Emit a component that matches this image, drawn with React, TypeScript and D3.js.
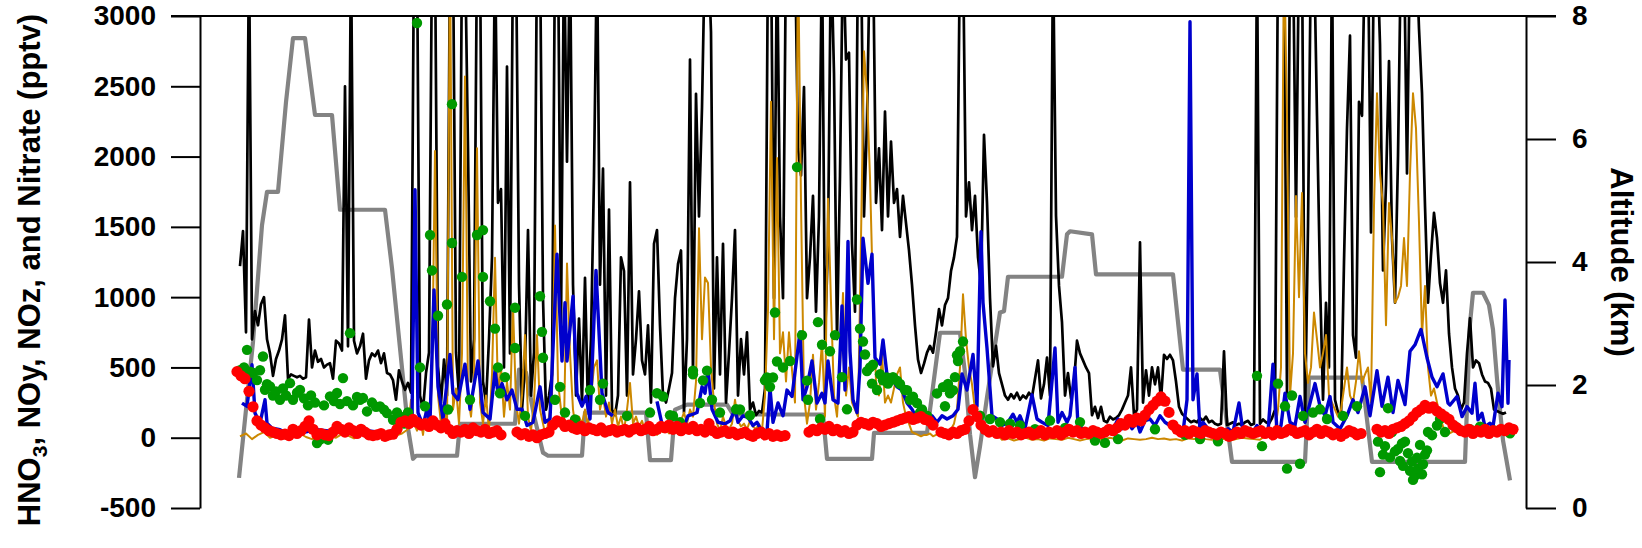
import React, { useEffect, useRef } from 'react';
import * as d3 from 'd3';

// Elapsed sample index runs from 0 to 1326 across the plot.
// A run is [first index, spacing, values]; values are pptv (null = no data).
type Run = [number, number, (number | null)[]];
type Pt = [number, number | null];

// NOy (black)
const noyRuns: Run[] = [
  [40, 3, [1220, 1470, 750, 3500, 700, 900, 800, 950, 1000, 700, 600, 440, 560, 620, 700, 870, 420, 450, 440, 430,
    440, 420, 430, 840, 500, 620, 540, 560, 500, 520, 530, 420, 690, 670, 620, 2500, 650, 3500, 690, 600,
    650, 740, 420, 550, 600, 580, 620, 530, 600, 460, 450, 410, 270, 480, 400, 340, 390, 320, 3500]],
  [217, 3, [3500, 300, 200, 460, 605, 3500, 3500, 508, 250, 556, 300, 3500, 3500, 605, 300, 3500, 3500, 2058, 400, 702,
    3500, 3500, 400, 250, 702, 1283, 3500, 1671, 1768, 500, 2640, 600, 3500, 3500, 1089, 200, 508, 1477, 300, 605,
    3500, 3500, 993, 200, 300, 450, 3500, 3500, 799]],
  [364, 3, [3500, 1963, 3500, 1089, 300, 848, 250, 1138, 200, 702, 1866, 3500, 1089, 1914, 300, 1623, 200, 160, 300, 1283,
    1186, 300, 1817, 450, 702, 1041, 550, 450, 799, 250, 1380, 1477, 799, 300, 250, 350, 460, 993, 1235, 1332,
    180, 702, 2690, 450, 2446, 1574, 2349, 3500, 3500]],
  [511, 3, [2884, 350, 1283, 450, 1380, 250, 605, 993, 1477, 300, 702, 450, 750, 200, 250, 160, 190, 180, 350, 3500,
    3500, 993, 3500, 1574, 993, 3500, 3500, 3500, 3500, 2058, 1866, 2494, 993, 1283, 1720, 896, 1574, 3500, 702, 1380,
    3500, 2592, 702, 1866, 3500, 2690, 2739, 1380]],
  [655, 3, [896, 3500, 3500, 1574, 2252, 3500, 3500, 1671, 2058, 1477, 2320, 1574, 2107, 1671, 1768, 1429, 1720, 1526, 1332, 1089,
    799, 556, 460, 527, 605, 653, 605, 750, 915, 799, 944, 993, 1186, 1283, 1429, 3500, 3500, 1574, 1817, 1477,
    1720, 1283, 1089, 2155, 1671, 993, 508, 653, 460]],
  [805, 3, [300, 270, 310, 280, 320, 270, 300, 280, 320, 290, 420, 550, 280, 380, 570, 300, 3500, 1580, 1080, 820,
    300, 460, 280, 390, 690, 600, 550, 500, 460, 160, 220, 140, 220, 120, 110, 150, 130, 140, 160, 200,
    250, 300, 500, 160, 200, 1390, 250]],
  [946, 3, [480, 300, 500, 380, 500, 270, 590, 560, 590, 550, 400, 220, 170, 150, 130, 110, 120, 110, 140, 120,
    150, 110, 120, 100, 90, 100, 615, 90, 100, 110, 90, 100, 90, 110, 120, 90, 100, 3500, 100, 130,
    110, 100, 140, 200, 3500, 3500, 3500, 300, 3500, 3500, 1570, 3500]],
  [1102, 3, [3500, 110, 1500, 3500, 3500, 2290, 1120, 270, 960, 500, 3500, 270, 180, 150, 1250, 2200, 2860, 730, 570, 2390,
    2290, 3500, 3500, 1460, 3500, 3500, 2800, 1190, 1800, 2680, 1420, 960, 2000, 3500, 3500, 1880, 3500, 3500, 3500, 2910,
    2450, 1650, 960, 1300, 1600, 1420, 1100, 960, 1190, 740, 500, 350, 300, 200, 250, 600, 850, 500, 550, 530,
    450, 400, 390, 350, 200, 190, 180, 170, 180]],
];

// HNO3 (orange)
const hno3Runs: Run[] = [
  [40, 6, [10, 30, -10, 20, 40, 0, 15, -5, 25, 10, 30, 5, -10, 20, 35, 10, 0, 25, 15, -5,
    20, 30, 10, 0, 20, 40, 15, 30, 60]],
  [211, 3, [270, 100, 50, 150, 20, 200, 80, 400, 2040, 300, 100, 250, 50, 3500, 200, 350, 100, 600, 2570, 300,
    150, 400, 2060, 250, 100, 300, 50, 450, 1280, 300, 500, 150, 400, 200, 940, 250, 100, 300, 730, 150,
    50, 250, 730, 200, 100, 0, 150, 300, 1510, 400, 200, 100]],
  [367, 3, [1240, 600, 200, 50, 150, 100, 200, 80, 300, 500, 550, 200, 300, 150, 250, 100, 200, 80, 150, 50,
    200, 390, 100, 150, 80, 120, 50, 100, 30, 60, 20, 50, 40, 60, 30, 50, 40, 80, 120, 180,
    100, 200, 150, 400, 1490, 700, 1140, 1100]],
  [511, 3, [500, 250, 100, 50, 150, 80, 60, 100, 270, 120, 80, 100, 60, 120, 80, 60, 100, 50, 300, 910,
    2390, 700, 1990, 600, 750, 400, 750, 480, 250, 3500, 1670, 300, 100, 250, 590, 200, 390, 680, 150, 1700,
    960, 300, 150, 500, 1030, 300, 500, 250]],
  [655, 3, [200, 150, 1420, 2750, 2450, 1850, 1000, 400, 300, 590, 250, 300, 250, 350, 450, 500, 250, 150, 100, 40,
    30, 20, 10, 20, 20, 30, 10, 20, 30, 20, 40, 30, 60, 100, 200, 500, 1020, 700, 500, 380,
    200, 150, 100, 80, 60, 40, 30, 20, 10]],
  [802, 6, [-15, -5, -20, -10, 0, -15, -10, -20, -5, -10, -15, 0, -10, -20, -10, -5, -15, -10, 0, -10,
    -20, -5, -10, -15, -10, 0, -10, -5, -15, -10, -20, -5, -10, 0, -10, -15, -5, -10, -20, -10,
    0, -5, -10, -15, 20]],
  [1072, 3, [0, 50, 200, 500, 3500, 2300, 300, 600, 1720, 1000, 1740, 600, 390, 500, 890, 700, 500, 600, 730, 300,
    250, 200, 150, 200, 350, 500, 300, 250, 400, 615, 390, 450, 500, 250, 1650, 2450, 1880, 1650, 800, 1670,
    1420, 960, 1000, 1080, 1420, 1080, 1880, 2450, 2200, 1530, 730, 1080, 500, 300, 350, 250, 150, 80, 40]],
  [1249, 6, [30, 50, 20, 40, 10, 30, 50, 20, 40, 30, 50]],
];

// Nitrate (red dots)
const nitrateRuns: Run[] = [
  [37, 4, [470, 440, 420, 330, 220, 120, 90, 70, 50, 40, 30, 20, 25, 15, 60, 30, 50, 80, 120, 60,
    20, 30, 20, 15, 40, 80, 60, 40, 70, 50, 30, 60, 40, 20, 15, 20, 30, 10, 20, 25,
    60, 110, 120, 100, 130, 110, 90, 100, 80, 120, 90, 70, 100, 60, 30, 50, 40, 60, 30, 70,
    50, 40, 60, 30, 40, 50, 20]],
  [317, 4, [40, 20, 30, 10, 20, 0, 20, 30, 40, 90, 120, 110, 80, 90, 70, 60, 80, 50, 70, 60,
    50, 70, 40, 50, 60, 40, 50, 60, 40, 60, 70, 50, 60, 80, 50, 60, 80, 70, 90, 60,
    80, 50, 70, 60, 80, 50, 60, 40, 100, 50, 30, 40, 50, 30, 40, 20, 30, 40, 20, 10,
    30, 40, 20, 30, 10, 20, 10, 15]],
  [609, 4, [40, 60, 50, 70, 60, 80, 50, 60, 40, 50, 30, 40, 90, 110, 100, 90, 110, 100, 80, 90,
    100, 110, 120, 130, 140, 150, 130, 140, 150, 130, 120, 90]],
  [741, 4, [40, 30, 20, 40, 30, 50, 60, 120, 200, 150, 90, 60, 40, 50, 30, 40, 20, 50, 30, 40,
    20, 30, 40, 20, 30, 50, 20, 40, 30, 50, 20, 40, 60, 40, 50, 30, 40, 30, 50, 40,
    30, 40, 60, 50, 70, 100, 90, 130, 110, 140, 120, 160, 200, 230, 260, 290, 260, 180, 90, 60,
    40, 50, 30, 50, 40, 30, 50, 40, 30, 20, 40, 30, 10, 20, 40, 30, 50, 40, 30, 40,
    50, 30, 40, 20, 50, 30, 40, 60, 50, 30, 40, 50, 20, 40, 60, 30, 50, 40, 20, 30,
    10, 30, 50, 40, 20, 30]],
  [1177, 4, [60, 40, 50, 30, 60, 70, 80, 100, 120, 150, 180, 200, 230, 210, 220, 190, 170, 150, 130, 90,
    70, 50, 40, 60, 30, 50, 40, 60, 30, 50, 40, 60, 50, 70, 60]],
];

// NOz (blue), [index, pptv]; two pieces with a data gap between them
const nozPiece1: Pt[] = [
  [42, 246], [47, 223], [52, 519], [55, 175], [60, 104], [65, 270], [67, 104], [72, 68], [80, 57], [87, 33],
  [100, 33], [117, 57], [133, 45], [147, 68], [160, 57], [173, 45], [187, 33], [193, 57], [198, 104], [203, 116],
  [208, 104], [212, 128], [215, 1764], [218, 179], [223, 87], [227, 202], [230, 110], [234, 1052], [238, 362], [243, 133],
  [250, 592], [253, 316], [258, 270], [265, 523], [270, 202], [278, 546], [283, 179], [290, 133], [295, 477], [298, 316],
  [302, 385], [307, 270], [312, 339], [317, 202], [322, 202], [327, 87], [333, 110], [340, 362], [345, 110], [350, 133],
  [357, 1305], [362, 546], [365, 960], [367, 546], [373, 1006], [377, 316], [382, 224], [386, 293], [390, 133], [396, 1190],
  [402, 316], [408, 179], [413, 156],
];
const nozPiece2: Pt[] = [
  [457, 259], [463, 64], [470, 64], [477, 87], [483, 64], [488, 156], [493, 167], [497, 179], [502, 362], [505, 316],
  [508, 477], [512, 202], [518, 110], [525, 98], [530, 121], [535, 202], [538, 110], [543, 156], [548, 144], [553, 87],
  [557, 110], [562, 41], [567, 41], [570, 351], [573, 110], [578, 247], [583, 156], [587, 339], [592, 293], [600, 753],
  [603, 270], [607, 362], [612, 546], [617, 247], [622, 316], [625, 247], [628, 546], [633, 270], [638, 247], [642, 937],
  [645, 339], [648, 1396], [650, 615], [653, 270], [657, 179], [660, 500], [663, 1419], [668, 1098], [672, 1305], [675, 569],
  [680, 523], [683, 696], [688, 385], [693, 408], [697, 362], [702, 339], [707, 247], [712, 202], [717, 133], [722, 202],
  [727, 110], [732, 156], [737, 110], [742, 156], [747, 133], [753, 156], [758, 202], [762, 454], [767, 339], [773, 592],
  [777, 224], [781, 1465], [783, 960], [787, 638], [792, 156], [797, 133], [802, 87], [808, 110], [813, 167], [817, 110],
  [820, 156], [825, 64], [832, 305], [837, 133], [842, 110], [848, 87], [855, 638], [858, 110], [862, 179], [867, 110],
  [870, 156], [875, 500], [878, 87], [883, 64], [892, 50], [902, 40], [912, 45], [918, 133], [922, 64], [927, 133],
  [932, 64], [937, 110], [940, 41], [945, 121], [950, 133], [955, 87], [960, 156], [965, 110], [970, 87], [977, 64],
  [983, 41], [987, 270], [990, 2959], [993, 270], [997, 454], [1000, 41], [1003, 110], [1008, 64], [1017, 41], [1023, 29],
  [1028, 64], [1033, 41], [1039, 247], [1043, 41], [1048, 64], [1053, 41], [1057, 87], [1062, 41], [1068, 41], [1073, 523],
  [1077, 41], [1081, 87], [1085, 316], [1090, 110], [1095, 87], [1100, 293], [1105, 110], [1110, 247], [1115, 385], [1120, 224],
  [1125, 156], [1130, 293], [1133, 110], [1140, 64], [1147, 156], [1153, 270], [1158, 179], [1165, 362], [1170, 156], [1177, 477],
  [1182, 224], [1188, 431], [1193, 179], [1198, 408], [1205, 236], [1210, 615], [1215, 661], [1221, 770], [1227, 569], [1232, 431],
  [1237, 362], [1243, 454], [1248, 247], [1250, 233], [1257, 293], [1262, 150], [1267, 221], [1272, 174], [1275, 387], [1278, 127],
  [1282, 174], [1285, 79], [1290, 103], [1293, 79], [1298, 316], [1302, 221], [1305, 980], [1308, 245], [1309, 553],
];

// other nitrogen species (green dots), [index, pptv]
const greenDots: [number, number][] = [
  [40, 480], [44, 500], [47, 625], [50, 470], [53, 460], [57, 410], [60, 480], [63, 578], [65, 341], [67, 380],
  [70, 365], [73, 300], [76, 330], [80, 270], [83, 350], [86, 300], [90, 388], [93, 270], [97, 320], [100, 340],
  [104, 280], [108, 230], [111, 300], [115, 250], [117, -38], [120, -14], [124, 230], [128, -14], [130, 294], [134, 260],
  [137, 318], [140, 240], [143, 424], [147, 260], [150, 744], [153, 230], [157, 290], [160, 270], [163, 282], [167, 187],
  [172, 250], [176, 220], [180, 223], [184, 200], [187, 175], [193, 128], [197, 180], [200, 152], [204, 100], [208, 180],
  [217, 2950], [220, 500], [225, 224], [230, 1442], [232, 1190], [238, 868], [247, 948], [248, 201], [252, 2373], [252, 1385],
  [262, 1144], [270, 270], [277, 1442], [283, 1477], [283, 1144], [290, 971], [295, 776], [298, 500], [300, 316], [305, 431],
  [315, 925], [315, 638], [325, 155], [340, 1006], [342, 753], [343, 569], [355, 270], [360, 362],
  [365, 179], [375, 130], [390, 339], [400, 270], [403, 385], [427, 155], [450, 179], [457, 316], [463, 293], [470, 160],
  [473, 155], [480, 110], [493, 477], [493, 451], [500, 247], [503, 408], [507, 477],
  [512, 270], [520, 179], [536, 202], [540, 201], [550, 160], [565, 408], [567, 428], [570, 362], [573, 428], [575, 891],
  [577, 542], [583, 500], [590, 546], [597, 1925], [602, 730], [607, 406], [608, 270], [618, 822], [620, 133], [622, 661],
  [630, 615], [635, 730], [642, 431], [647, 202],
  [657, 983], [660, 776], [663, 684], [665, 592], [667, 474], [670, 500], [673, 519], [672, 385], [677, 339], [680, 451],
  [683, 408], [687, 428], [688, 385], [693, 431], [697, 406], [700, 383], [705, 339], [707, 338], [710, 270], [713, 292],
  [717, 247], [720, 179], [722, 201], [727, 156], [737, 315], [743, 360], [745, 224], [748, 383], [750, 316], [753, 338],
  [755, 431], [757, 587], [758, 546], [760, 615], [763, 684], [780, 156], [790, 133], [800, 111], [810, 100], [820, 88],
  [835, 60], [850, 122], [865, 70], [880, 111], [895, -20], [905, -37], [918, -10], [942, 133], [955, 60], [985, 20],
  [1000, -10], [1018, -25], [1057, 440], [1062, -60], [1078, 385], [1085, 224], [1087, -220], [1092, 300], [1100, -185], [1103, 155],
  [1113, 179], [1120, 202], [1127, 133], [1143, 155], [1157, 224], [1178, -28], [1180, -245], [1183, -120], [1185, -60], [1188, 210],
  [1190, -140], [1192, 41], [1195, -97], [1198, -80], [1200, -166], [1202, -40], [1203, -200], [1205, -28], [1208, -110], [1210, -235],
  [1212, -170], [1213, -300], [1215, -270], [1217, -143], [1218, -220], [1220, -51], [1222, -260], [1223, -189], [1225, -120], [1227, -90],
  [1228, 41], [1232, 18], [1237, 87], [1240, 133], [1245, 41], [1255, 80], [1270, 60], [1280, 79], [1295, 50], [1310, 32],
];

// aircraft altitude (grey, right axis), [index, km]
const altitudeKm: [number, number][] = [
  [39, 0.49], [46, 1.6], [53, 2.7], [62, 4.6], [67, 5.14], [78, 5.14], [86, 6.6], [93, 7.64], [105, 7.64], [115, 6.39],
  [132, 6.39], [140, 4.85], [185, 4.85], [192, 3.9], [200, 2.6], [208, 1.3], [213, 0.8], [216, 0.85], [257, 0.85], [260, 1.37],
  [315, 1.37], [319, 2.25], [326, 2.2], [334, 1.5], [343, 0.9], [348, 0.85], [382, 0.85], [385, 1.55], [446, 1.55], [450, 0.78],
  [471, 0.78], [475, 1.6], [487, 1.68], [527, 1.68], [533, 1.52], [623, 1.52], [627, 0.8], [672, 0.8], [674, 1.22], [727, 1.22],
  [740, 2.85], [760, 2.85], [765, 2.2], [770, 1.2], [775, 0.5], [780, 1.0], [787, 1.8], [795, 2.65], [800, 3.18], [804, 3.2],
  [808, 3.76], [862, 3.76], [867, 4.45], [870, 4.5], [892, 4.45], [896, 3.8], [973, 3.8], [983, 2.25], [1020, 2.25], [1032, 0.75],
  [1105, 0.75], [1109, 2.12], [1162, 2.12], [1172, 0.75], [1265, 0.75], [1270, 3.0], [1273, 3.5], [1283, 3.5], [1289, 3.3], [1293, 2.9],
  [1297, 2.1], [1303, 1.1], [1310, 0.45],
];

const leftTicks = [-500, 0, 500, 1000, 1500, 2000, 2500, 3000];
const rightTicks = [0, 2, 4, 6, 8];

const WIDTH = 1642;
const HEIGHT = 548;
const margin = { top: 16, right: 116, bottom: 40, left: 200 };
const FONT = '"Liberation Sans", Arial, Helvetica, sans-serif';

const expand = (runs: Run[]): Pt[] =>
  runs.flatMap(([t0, dt, vals]) => vals.map((v, i) => [t0 + i * dt, v] as Pt));

const App: React.FC = () => {
  const svgRef = useRef<SVGSVGElement>(null);

  useEffect(() => {
    if (!svgRef.current) return;
    const svg = d3.select(svgRef.current);
    svg.selectAll('*').remove();

    const innerWidth = WIDTH - margin.left - margin.right;
    const innerHeight = HEIGHT - margin.top - margin.bottom;

    const x = d3.scaleLinear().domain([0, 1326]).range([0, innerWidth]);
    const y = d3.scaleLinear().domain([-500, 3000]).range([innerHeight, 0]);
    const yAlt = d3.scaleLinear().domain([0, 8]).range([innerHeight, 0]);

    svg.append('rect').attr('width', WIDTH).attr('height', HEIGHT).attr('fill', '#fff');

    svg.append('defs').append('clipPath').attr('id', 'plot-clip')
      .append('rect').attr('width', innerWidth).attr('height', innerHeight);

    const g = svg.append('g').attr('transform', `translate(${margin.left},${margin.top})`);
    const plot = g.append('g').attr('clip-path', 'url(#plot-clip)');

    const line = d3.line<Pt>()
      .defined(d => d[1] !== null)
      .x(d => x(d[0]))
      .y(d => y(d[1] as number));

    // altitude first, underneath everything
    const altLine = d3.line<[number, number]>()
      .x(d => x(d[0]))
      .y(d => yAlt(d[1]));
    plot.append('path')
      .datum(altitudeKm)
      .attr('fill', 'none')
      .attr('stroke', '#838383')
      .attr('stroke-width', 4.2)
      .attr('stroke-linejoin', 'round')
      .attr('d', altLine);

    plot.append('path')
      .datum(expand(noyRuns))
      .attr('fill', 'none')
      .attr('stroke', '#000')
      .attr('stroke-width', 2.7)
      .attr('stroke-linejoin', 'round')
      .attr('d', line);

    plot.append('path')
      .datum(expand(hno3Runs))
      .attr('fill', 'none')
      .attr('stroke', '#cc8800')
      .attr('stroke-width', 2)
      .attr('stroke-linejoin', 'round')
      .attr('d', line);

    g.append('g').selectAll('circle')
      .data(greenDots)
      .enter()
      .append('circle')
      .attr('cx', d => x(d[0]))
      .attr('cy', d => y(d[1]))
      .attr('r', 5.2)
      .attr('fill', '#009900');

    g.append('g').selectAll('circle')
      .data(expand(nitrateRuns).filter(d => d[1] !== null))
      .enter()
      .append('circle')
      .attr('cx', d => x(d[0]))
      .attr('cy', d => y(d[1] as number))
      .attr('r', 5.6)
      .attr('fill', '#ff0000');

    [nozPiece1, nozPiece2].forEach(piece => {
      plot.append('path')
        .datum(piece)
        .attr('fill', 'none')
        .attr('stroke', '#0000cc')
        .attr('stroke-width', 3.4)
        .attr('stroke-linejoin', 'round')
        .attr('d', line);
    });

    // axes
    const leftAxis = g.append('g')
      .call(d3.axisLeft(y).tickValues(leftTicks).tickSize(29).tickSizeOuter(0).tickPadding(15)
        .tickFormat(d => String(d)));
    const rightAxis = g.append('g')
      .attr('transform', `translate(${innerWidth},0)`)
      .call(d3.axisRight(yAlt).tickValues(rightTicks).tickSize(30).tickSizeOuter(0).tickPadding(16)
        .tickFormat(d => String(d)));

    [leftAxis, rightAxis].forEach(ax => {
      ax.selectAll('path, line').attr('stroke', '#000').attr('stroke-width', 2);
      ax.selectAll('text')
        .attr('font-family', FONT)
        .attr('font-weight', 'bold')
        .attr('font-size', 28)
        .attr('fill', '#000');
    });

    // frame line along the top
    g.append('line')
      .attr('x1', -29).attr('x2', innerWidth + 30)
      .attr('y1', y(3000)).attr('y2', y(3000))
      .attr('stroke', '#000').attr('stroke-width', 2);

    // axis titles
    const leftTitle = svg.append('text')
      .attr('transform', `translate(40,${margin.top + innerHeight / 2 + 8}) rotate(-90)`)
      .attr('text-anchor', 'middle')
      .attr('font-family', FONT)
      .attr('font-weight', 'bold')
      .attr('font-size', 31)
      .attr('fill', '#000');
    leftTitle.append('tspan').text('HNO');
    leftTitle.append('tspan').attr('dy', 7).attr('font-size', 21).text('3');
    leftTitle.append('tspan').attr('dy', -7).text(', NOy, NOz, and Nitrate (pptv)');

    svg.append('text')
      .attr('transform', `translate(${margin.left + innerWidth + 85},${margin.top + innerHeight / 2}) rotate(90)`)
      .attr('text-anchor', 'middle')
      .attr('font-family', FONT)
      .attr('font-weight', 'bold')
      .attr('font-size', 31)
      .attr('fill', '#000')
      .text('Altitude (km)');
  }, []);

  return (
    <svg
      ref={svgRef}
      width={WIDTH}
      height={HEIGHT}
      style={{ position: 'absolute', left: 0, top: 0, display: 'block' }}
    />
  );
};

export default App;
